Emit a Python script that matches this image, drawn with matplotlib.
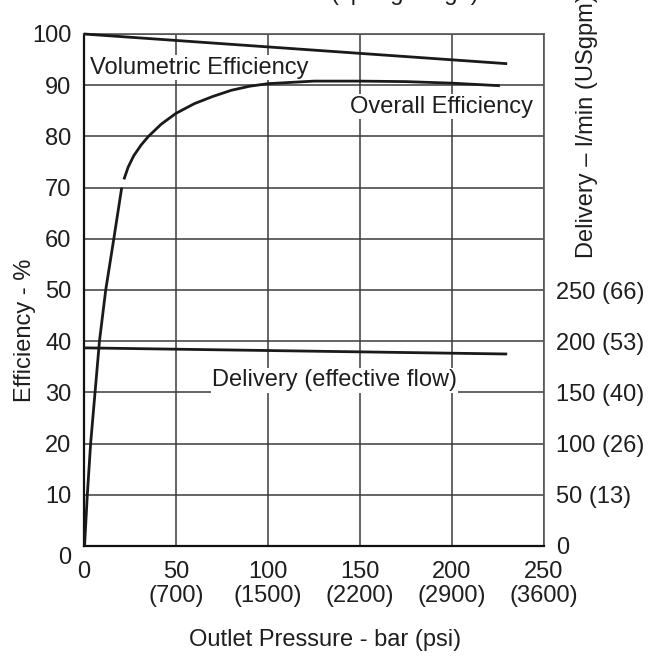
import matplotlib.pyplot as plt
from matplotlib.transforms import ScaledTranslation

plt.rcParams["font.family"] = ["Liberation Sans", "DejaVu Sans"]

# outlet pressure (bar) and efficiencies (%)
vol_pressure = [0, 230]
vol_eff = [100.0, 94.2]

ramp_pressure = [0.3, 1.8, 3.6, 6.0, 8.4, 11.8, 16.2, 20.5]
ramp_eff = [0, 10, 20, 30, 40, 50, 60, 70]

overall_pressure = [21.7, 24, 27, 31, 35, 42, 50, 60, 70, 80, 90, 100,
                    125, 150, 175, 200, 226]
overall_eff = [71.6, 74.0, 76.2, 78.3, 80.0, 82.4, 84.5, 86.4, 87.8, 89.0,
               89.8, 90.3, 90.8, 90.8, 90.7, 90.4, 89.9]

# delivery in l/min
delivery_pressure = [0, 230]
delivery_flow = [193.5, 187.5]

x_ticks = [0, 50, 100, 150, 200, 250]
x_labels = ["0", "50\n(700)", "100\n(1500)", "150\n(2200)", "200\n(2900)", "250\n(3600)"]
eff_ticks = [0, 10, 20, 30, 40, 50, 60, 70, 80, 90, 100]
flow_ticks = [0, 50, 100, 150, 200, 250]
flow_labels = ["0", "50 (13)", "100 (26)", "150 (40)", "200 (53)", "250 (66)"]

fs = 17
ink = "#1e1e1e"
grid_col = "#3a3a3a"

fig = plt.figure(figsize=(6.58, 6.56), dpi=100)
ax = fig.add_axes([84 / 658, 1 - 546 / 656, 460 / 658, 512 / 656])
ax2 = ax.twinx()

ax.set_xlim(0, 250)
ax.set_ylim(0, 100)
ax2.set_ylim(0, 500)

ax.set_xticks(x_ticks)
ax.set_xticklabels(x_labels, fontsize=fs, color=ink, linespacing=1.1)
ax.set_yticks(eff_ticks)
ax.set_yticklabels([str(t) for t in eff_ticks], fontsize=fs, color=ink)
ax2.set_yticks(flow_ticks)
ax2.set_yticklabels(flow_labels, fontsize=fs, color=ink)

ax.tick_params(axis="x", length=0, pad=11)
ax.tick_params(axis="y", length=0, pad=9)
ax2.tick_params(axis="y", length=0, pad=9)

# bottom-left zero sits a little lower
lbl = ax.get_yticklabels()[0]
lbl.set_transform(lbl.get_transform() + ScaledTranslation(0, -9 / 100, fig.dpi_scale_trans))

ax.grid(True, color=grid_col, linewidth=1.1)
ax.set_axisbelow(True)

for side in ["left", "bottom"]:
    ax.spines[side].set_linewidth(1.6)
    ax.spines[side].set_color("#111111")
for side in ["top", "right"]:
    ax.spines[side].set_linewidth(1.2)
    ax.spines[side].set_color("#555555")
for side in ax2.spines:
    ax2.spines[side].set_visible(False)

line_kw = dict(color="#1a1a1a", linewidth=2.0, solid_capstyle="butt", zorder=5)
ax.plot(vol_pressure, vol_eff, clip_on=False, **line_kw)
ax.plot(ramp_pressure, ramp_eff, **line_kw)
ax.plot(overall_pressure, overall_eff, **line_kw)
ax2.plot(delivery_pressure, delivery_flow, **line_kw)

box = dict(facecolor="white", edgecolor="none", pad=1)
ax.text(3.3, 93.4, "Volumetric Efficiency", fontsize=fs, color=ink,
        va="center", ha="left", bbox=box, zorder=4)
ax.text(144.6, 85.8, "Overall Efficiency", fontsize=fs, color=ink,
        va="center", ha="left", bbox=box, zorder=4)
ax.text(69.6, 32.4, "Delivery (effective flow)", fontsize=fs, color=ink,
        va="center", ha="left", bbox=box, zorder=4)

fig.text(25 / 658, 1 - 330 / 656, "Efficiency - %", fontsize=fs, color=ink,
         rotation=90, ha="center", va="center")
fig.text(587 / 658, 1 - 258 / 656, "Delivery \u2013 l/min (USgpm)", fontsize=fs,
         color=ink, rotation=90, ha="center", va="bottom")
fig.text(325 / 658, 1 - 640 / 656, "Outlet Pressure - bar (psi)", fontsize=fs,
         color=ink, ha="center", va="center")
fig.text(405 / 658, 1.0, "(spring range)", fontsize=fs, color=ink,
         ha="center", va="baseline")

fig.savefig("out.png", dpi=100)
